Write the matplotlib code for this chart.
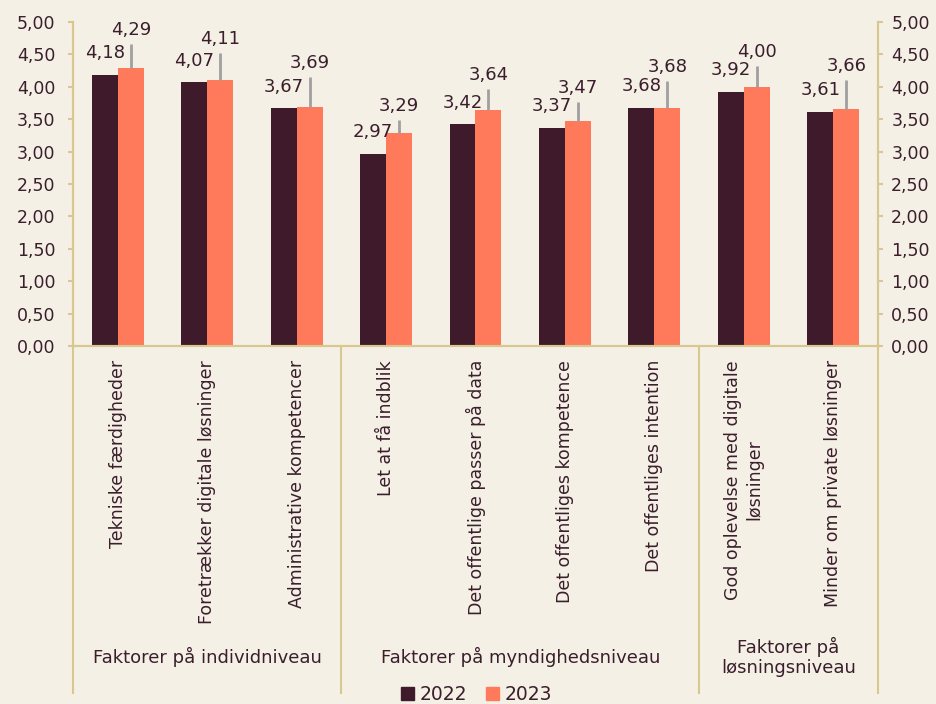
import matplotlib.pyplot as plt
import matplotlib.transforms as mtransforms
from matplotlib.patches import Patch

# Data
categories = ['Tekniske færdigheder', 'Foretrækker digitale løsninger', 'Administrative kompetencer',
              'Let at få indblik', 'Det offentlige passer på data', 'Det offentliges kompetence',
              'Det offentliges intention', 'God oplevelse med digitale\nløsninger',
              'Minder om private løsninger']
values_2022 = [4.18, 4.07, 3.67, 2.97, 3.42, 3.37, 3.68, 3.92, 3.61]
values_2023 = [4.29, 4.11, 3.69, 3.29, 3.64, 3.47, 3.68, 4.00, 3.66]
err_2023 = [0.37, 0.41, 0.46, 0.20, 0.33, 0.29, 0.41, 0.32, 0.44]
groups = ['Faktorer på individniveau', 'Faktorer på myndighedsniveau', 'Faktorer på\nløsningsniveau']
group_sizes = [3, 4, 2]
yticks = [0, 0.5, 1, 1.5, 2, 2.5, 3, 3.5, 4, 4.5, 5]

bg = '#F5F0E6'
dark = '#3E1A2A'
orange = '#FF7A5A'
axcol = '#D8C78F'
txt = '#3A1E2C'

plt.rcParams['font.family'] = ['DejaVu Sans']
plt.rcParams['text.color'] = txt

fig = plt.figure(figsize=(9.36, 7.04), dpi=100, facecolor=bg)
ax = fig.add_axes([73 / 936, 1 - 346 / 704, (878 - 73) / 936, 324 / 704])
ax.set_facecolor(bg)

x = list(range(len(categories)))
w = 0.29
ax.bar([i - w / 2 for i in x], values_2022, width=w, color=dark, label='2022', zorder=2)
ax.bar([i + w / 2 for i in x], values_2023, width=w, color=orange, label='2023', zorder=2)
ax.errorbar([i + w / 2 for i in x], values_2023, yerr=[[0] * len(x), err_2023],
            fmt='none', ecolor='#A0A0A0', elinewidth=2, capsize=0, zorder=3)

fmt = lambda v: f'{v:.2f}'.replace('.', ',')
for i in x:
    ax.annotate(fmt(values_2022[i]), (i - w / 2, values_2022[i]), xytext=(0, 12),
                textcoords='offset points', ha='center', va='baseline', fontsize=13, color=txt)
    ax.annotate(fmt(values_2023[i]), (i + w / 2, values_2023[i] + err_2023[i]), xytext=(0, 6.5),
                textcoords='offset points', ha='center', va='baseline', fontsize=13, color=txt)

ax.set_xlim(-0.5, len(categories) - 0.5)
ax.set_ylim(0, 5)
ax.set_yticks(yticks)
ax.set_yticklabels([fmt(v) for v in yticks], fontsize=12.5, color=txt)
ax.set_xticks(x)
ax.set_xticklabels(categories, rotation=90, va='top', ha='center', multialignment='center',
                   fontsize=12.5, color=txt)
ax.tick_params(axis='x', length=0, pad=10)
ax.tick_params(axis='y', colors=axcol, labelcolor=txt, length=3.5, width=1.5, pad=9)

ax2 = ax.twinx()
ax2.set_ylim(0, 5)
ax2.set_yticks(yticks)
ax2.set_yticklabels([fmt(v) for v in yticks], fontsize=12.5, color=txt)
ax2.tick_params(axis='y', colors=axcol, labelcolor=txt, length=3.5, width=1.5, pad=6)

for a in (ax, ax2):
    a.spines['top'].set_visible(False)
    for s in ['left', 'right', 'bottom']:
        a.spines[s].set_color(axcol)
        a.spines[s].set_linewidth(1.5)

# group separators and group labels below the axis
trans = mtransforms.blended_transform_factory(ax.transData, ax.transAxes)
edges = [-0.5]
for n in group_sizes:
    edges.append(edges[-1] + n)
for e in edges:
    ax.plot([e, e], [0, -1.071], transform=trans, color=axcol, lw=1.5, clip_on=False)
for k, g in enumerate(groups):
    mid = (edges[k] + edges[k + 1]) / 2
    ax.text(mid, -0.96, g, transform=trans, ha='center', va='center', fontsize=13,
            color=txt, linespacing=1.1)

handles = [Patch(color=dark, label='2022'), Patch(color=orange, label='2023')]
fig.legend(handles=handles, loc='lower center', bbox_to_anchor=(0.509, -0.024), ncol=2,
           frameon=False, fontsize=13.5, handlelength=0.7, handleheight=0.7,
           handletextpad=0.3, columnspacing=1.0)

fig.savefig('out.png', dpi=100, facecolor=bg)
